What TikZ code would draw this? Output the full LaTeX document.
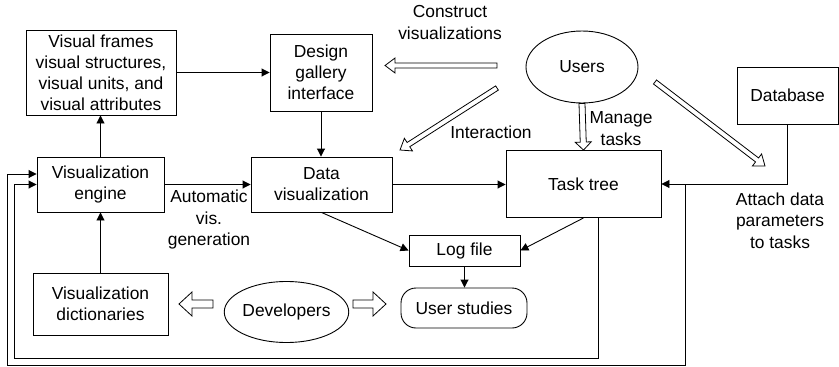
\documentclass[tikz,border=0pt]{standalone}
\usepackage{fontspec}
\setmainfont{Liberation Sans}
\usetikzlibrary{shapes.geometric,arrows.meta,calc}
\tikzset{
  box/.style={draw=black, line width=0.9pt, rectangle, inner sep=0pt, align=center, font=\fontsize{17.4}{21}\selectfont},
  oval/.style={draw=black, line width=0.9pt, ellipse, inner sep=0pt, align=center, font=\fontsize{17.4}{21}\selectfont},
  lbl/.style={inner sep=0pt, align=center, font=\fontsize{17.4}{21.5}\selectfont},
  conn/.style={draw=black, line width=0.9pt, -{Triangle[length=8pt,width=8pt]}},
  harrow/.style={draw=black, line width=0.8pt, fill=white, line join=miter}
}
\newcommand\hollowarrow[5]{%
  \coordinate (ha-n) at ($(#2)!#5!(#1)$);
  \draw[harrow] ($(#1)!#3!-90:(#2)$) -- ($(ha-n)!#3!-90:(#2)$) -- ($(ha-n)!#4!-90:(#2)$) -- (#2) -- ($(ha-n)!#4!90:(#2)$) -- ($(ha-n)!#3!90:(#2)$) -- ($(#1)!#3!90:(#2)$) -- cycle;
}
\begin{document}
\begin{tikzpicture}[x=1pt,y=-1pt]
\useasboundingbox (0,0) rectangle (839,367);
% nodes
\node[box, minimum width=150, minimum height=85] (frames) at (101,72.5) {Visual frames\\visual structures,\\visual units, and\\visual attributes};
\node[box, minimum width=102, minimum height=77] (design) at (321,72.5) {Design\\gallery\\interface};
\node[box, minimum width=127, minimum height=55] (engine) at (100.5,184.5) {Visualization\\engine};
\node[box, minimum width=141, minimum height=55] (datavis) at (321.5,184.5) {Data\\visualization};
\node[box, minimum width=155, minimum height=67] (task) at (583.5,184) {Task tree};
\node[box, minimum width=101, minimum height=57] (database) at (787.5,95.5) {Database};
\node[box, minimum width=111, minimum height=31] (logfile) at (464.5,250.5) {Log file};
\node[box, minimum width=126, minimum height=40, rounded corners=15pt] (studies) at (464,308) {User studies};
\node[box, minimum width=135, minimum height=62] (dict) at (100.5,304) {Visualization\\dictionaries};
\node[oval, minimum width=112, minimum height=72] (users) at (582,67) {Users};
\node[oval, minimum width=120, minimum height=61] (devs) at (286.5,312) {Developers};
% labels
\node[lbl] (lconstruct) at (450,22.5) {Construct\\visualizations};
\node[lbl] (linteract) at (491,132) {Interaction};
\node[lbl] (lmanage) at (621,128.5) {Manage\\tasks};
\node[lbl] (lauto) at (209,219.5) {Automatic\\vis.\\generation};
\node[lbl] (lattach) at (780,220.5) {Attach data\\parameters\\to tasks};
% connectors
\draw[conn] (frames.east) -- (frames.east -| design.west);
\draw[conn] (design.south) -- (design.south |- datavis.north);
\draw[conn] (engine.north) -- (engine.north |- frames.south);
\draw[conn] (dict.north) -- (dict.north |- engine.south);
\draw[conn] (engine.east) -- (engine.east -| datavis.west);
\draw[conn] (datavis.east) -- (datavis.east -| task.west);
\draw[conn] (datavis.south) -- (logfile.west);
\draw[conn] (task.south) -- (logfile.east);
\draw[conn] (logfile.south) -- (logfile.south |- studies.north);
\draw[conn] (database.south) |- (task.east);
% feedback loops
\coordinate (jout) at (685,184);
\coordinate (oc) at (7,365);
\coordinate (ic) at (14,358);
\coordinate (tin) at ([xshift=15pt]task.south);
\draw[conn] (jout) |- (oc) |- ([yshift=10.5pt]engine.west);
\draw[conn] (tin) |- (ic) |- (engine.west);
% hollow arrows
\coordinate (cTail) at (497,65.5);
\coordinate (cTip) at (385,65.5);
\coordinate (iTail) at (497,88);
\coordinate (iTip) at (400,150);
\coordinate (dTail) at (655,82);
\coordinate (dTip) at (765,166);
\coordinate (dlTail) at (213,304);
\coordinate (dlTip) at (179,304);
\coordinate (drTail) at (353,304);
\coordinate (drTip) at (386,304);
\hollowarrow{cTail}{cTip}{2.5pt}{7.5pt}{10pt}
\hollowarrow{iTail}{iTip}{2.5pt}{7.5pt}{10pt}
\hollowarrow{dTail}{dTip}{2.5pt}{7.5pt}{10pt}
\hollowarrow{users.south}{task.north}{3pt}{8pt}{8pt}
\hollowarrow{dlTail}{dlTip}{4pt}{12pt}{13pt}
\hollowarrow{drTail}{drTip}{4pt}{12pt}{13pt}
\end{tikzpicture}
\end{document}
